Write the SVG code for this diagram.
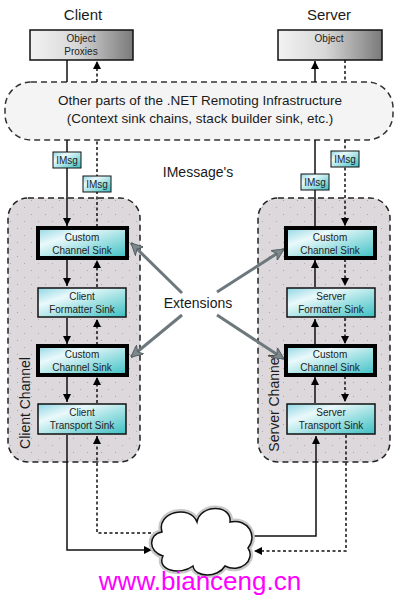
<svg xmlns="http://www.w3.org/2000/svg" width="400" height="599" viewBox="0 0 400 599">
<defs>
<style>
text{font-family:"Liberation Sans",Arial,sans-serif;fill:#1a1a1a;text-anchor:middle}
.hdr{font-size:15px}
.big{font-size:13.5px}
.sm{font-size:10px;fill:#222}
.lbl{font-size:14px}
.sink{fill:url(#sinkG);stroke:#111;stroke-width:1.5}
.sinkT{fill:url(#sinkG);stroke:#000;stroke-width:4}
.imsg{fill:url(#sinkG);stroke:#111;stroke-width:1}
.cont{fill:url(#dots);stroke:#222;stroke-width:1.5;stroke-dasharray:6 4}
.solid{fill:none;stroke:#111;stroke-width:1.5}
.dash{fill:none;stroke:#111;stroke-width:1.5;stroke-dasharray:3 2.5}
.ext{fill:none;stroke:#6c787c;stroke-width:3}
</style>
<linearGradient id="sinkG" x1="0" y1="0" x2="1" y2="1">
<stop offset="0" stop-color="#8fd6e4"/>
<stop offset="0.3" stop-color="#eaf9fb"/>
<stop offset="0.6" stop-color="#9ee0e2"/>
<stop offset="1" stop-color="#3cc0c4"/>
</linearGradient>
<linearGradient id="objG" x1="0" y1="0" x2="1" y2="0">
<stop offset="0" stop-color="#f2f2f2"/>
<stop offset="0.45" stop-color="#d8d8d8"/>
<stop offset="1" stop-color="#7a7a7a"/>
</linearGradient>
<pattern id="dots" width="14" height="14" patternUnits="userSpaceOnUse">
<rect width="14" height="14" fill="#dcd8dc"/>
<rect x="3" y="4" width="1" height="1" fill="#a9a3a9"/>
<rect x="10" y="11" width="1" height="1" fill="#b3adb3"/>
</pattern>
<marker id="ah" viewBox="0 0 10 10" refX="10" refY="5" markerWidth="8" markerHeight="8" markerUnits="userSpaceOnUse" orient="auto">
<path d="M0,0 L10,5 L0,10 z" fill="#000"/>
</marker>
<marker id="gah" viewBox="0 0 10 10" refX="10" refY="5" markerWidth="12" markerHeight="12" markerUnits="userSpaceOnUse" orient="auto">
<path d="M0,0 L10,5 L0,10 L3,5 z" fill="#7d898d" stroke="#555f62" stroke-width="0.8"/>
</marker>
</defs>
<rect width="400" height="599" fill="#fff"/>

<g id="headers">
<text class="hdr" x="83" y="20">Client</text>
<text class="hdr" x="329" y="20">Server</text>
</g>

<g id="objectProxies">
<rect x="30" y="30" width="103" height="30" fill="url(#objG)" stroke="#111" stroke-width="1.5"/>
<text class="sm" x="81" y="42">Object</text>
<text class="sm" x="81" y="55">Proxies</text>
</g>
<g id="object">
<rect x="278" y="30" width="104" height="30" fill="url(#objG)" stroke="#111" stroke-width="1.5"/>
<text class="sm" x="329" y="42">Object</text>
</g>

<g id="infrastructure">
<rect x="5" y="82" width="388" height="58" rx="26" fill="#f4f4f4" stroke="#333" stroke-width="1.5" stroke-dasharray="6 4"/>
<text class="big" x="200" y="105">Other parts of the .NET Remoting Infrastructure</text>
<text class="big" x="200" y="123">(Context sink chains, stack builder sink, etc.)</text>
</g>

<g id="clientChannel">
<rect class="cont" x="8" y="198" width="132" height="264" rx="20"/>
<text class="lbl" transform="translate(30,403) rotate(-90)">Client Channel</text>
</g>
<g id="serverChannel">
<rect class="cont" x="258" y="198" width="132" height="264" rx="20"/>
<text class="lbl" transform="translate(279,403) rotate(-90)">Server Channel</text>
</g>

<g id="connectors">
<line class="solid" x1="67" y1="60" x2="67" y2="82"/>
<line class="dash" x1="97" y1="82" x2="97" y2="61" marker-end="url(#ah)"/>
<line class="solid" x1="315" y1="82" x2="315" y2="61" marker-end="url(#ah)"/>
<line class="dash" x1="345" y1="60" x2="345" y2="82"/>
<line class="solid" x1="67" y1="140" x2="67" y2="226" marker-end="url(#ah)"/>
<line class="dash" x1="97" y1="227" x2="97" y2="140"/>
<line class="solid" x1="315" y1="227" x2="315" y2="140"/>
<line class="dash" x1="345" y1="140" x2="345" y2="226" marker-end="url(#ah)"/>
<line class="solid" x1="67" y1="259" x2="67" y2="286" marker-end="url(#ah)"/>
<line class="solid" x1="67" y1="318" x2="67" y2="344" marker-end="url(#ah)"/>
<line class="solid" x1="67" y1="376" x2="67" y2="402" marker-end="url(#ah)"/>
<line class="dash" x1="97" y1="287" x2="97" y2="260" marker-end="url(#ah)"/>
<line class="dash" x1="97" y1="345" x2="97" y2="319" marker-end="url(#ah)"/>
<line class="dash" x1="97" y1="403" x2="97" y2="377" marker-end="url(#ah)"/>
<line class="solid" x1="315" y1="287" x2="315" y2="260" marker-end="url(#ah)"/>
<line class="solid" x1="315" y1="345" x2="315" y2="319" marker-end="url(#ah)"/>
<line class="solid" x1="315" y1="403" x2="315" y2="377" marker-end="url(#ah)"/>
<line class="dash" x1="345" y1="259" x2="345" y2="286" marker-end="url(#ah)"/>
<line class="dash" x1="345" y1="318" x2="345" y2="344" marker-end="url(#ah)"/>
<line class="dash" x1="345" y1="376" x2="345" y2="402" marker-end="url(#ah)"/>
<polyline class="solid" points="67,435 67,550 152,550" marker-end="url(#ah)"/>
<polyline class="dash" points="162,533 97,533 97,436" marker-end="url(#ah)"/>
<polyline class="solid" points="248,536 316,536 316,436" marker-end="url(#ah)"/>
<polyline class="dash" points="346,435 346,551 254,551" marker-end="url(#ah)"/>
<line class="ext" x1="182" y1="293" x2="131" y2="243" marker-end="url(#gah)"/>
<line class="ext" x1="182" y1="315" x2="131" y2="357" marker-end="url(#gah)"/>
<line class="ext" x1="217" y1="292" x2="284" y2="249" marker-end="url(#gah)"/>
<line class="ext" x1="217" y1="315" x2="284" y2="359" marker-end="url(#gah)"/>
</g>

<g id="imsgClient1"><rect class="imsg" x="53" y="152" width="28" height="16"/><text class="sm" x="67" y="164">IMsg</text></g>
<g id="imsgClient2"><rect class="imsg" x="83" y="176" width="28" height="16"/><text class="sm" x="97" y="188">IMsg</text></g>
<g id="imsgServer1"><rect class="imsg" x="301" y="174" width="28" height="16"/><text class="sm" x="315" y="186">IMsg</text></g>
<g id="imsgServer2"><rect class="imsg" x="331" y="151" width="28" height="16"/><text class="sm" x="345" y="163">IMsg</text></g>

<g id="labels">
<text class="lbl" x="198" y="177">IMessage's</text>
<text class="lbl" x="198" y="308">Extensions</text>
</g>

<g id="clientCustom1"><rect class="sinkT" x="38" y="228" width="89" height="30"/><text class="sm" x="82" y="241">Custom</text><text class="sm" x="82" y="254">Channel Sink</text></g>
<g id="clientFormatter"><rect class="sink" x="38" y="288" width="88" height="29"/><text class="sm" x="82" y="300">Client</text><text class="sm" x="82" y="313">Formatter Sink</text></g>
<g id="clientCustom2"><rect class="sinkT" x="38" y="346" width="89" height="29"/><text class="sm" x="82" y="358">Custom</text><text class="sm" x="82" y="371">Channel Sink</text></g>
<g id="clientTransport"><rect class="sink" x="38" y="404" width="88" height="30"/><text class="sm" x="82" y="416">Client</text><text class="sm" x="82" y="429">Transport Sink</text></g>

<g id="serverCustom1"><rect class="sinkT" x="286" y="228" width="89" height="30"/><text class="sm" x="330" y="241">Custom</text><text class="sm" x="330" y="254">Channel Sink</text></g>
<g id="serverFormatter"><rect class="sink" x="287" y="288" width="88" height="29"/><text class="sm" x="331" y="300">Server</text><text class="sm" x="331" y="313">Formatter Sink</text></g>
<g id="serverCustom2"><rect class="sinkT" x="286" y="346" width="89" height="29"/><text class="sm" x="330" y="358">Custom</text><text class="sm" x="330" y="371">Channel Sink</text></g>
<g id="serverTransport"><rect class="sink" x="287" y="404" width="88" height="30"/><text class="sm" x="331" y="416">Server</text><text class="sm" x="331" y="429">Transport Sink</text></g>

<g id="network">
<path d="M162 532 C156 512 190 504 197 522 C200 504 232 504 230 522 C248 518 258 536 248 548 C256 560 240 574 225 566 C218 578 195 578 193 566 C180 576 156 570 163 556 C148 552 148 534 162 532 Z" fill="none" stroke="#c8c8c8" stroke-width="6"/>
<path d="M162 532 C156 512 190 504 197 522 C200 504 232 504 230 522 C248 518 258 536 248 548 C256 560 240 574 225 566 C218 578 195 578 193 566 C180 576 156 570 163 556 C148 552 148 534 162 532 Z" fill="#fff" stroke="#111" stroke-width="1.5"/>
</g>

<text x="200" y="590" style="font-size:26px;fill:#ff00ff">www.bianceng.cn</text>
</svg>
